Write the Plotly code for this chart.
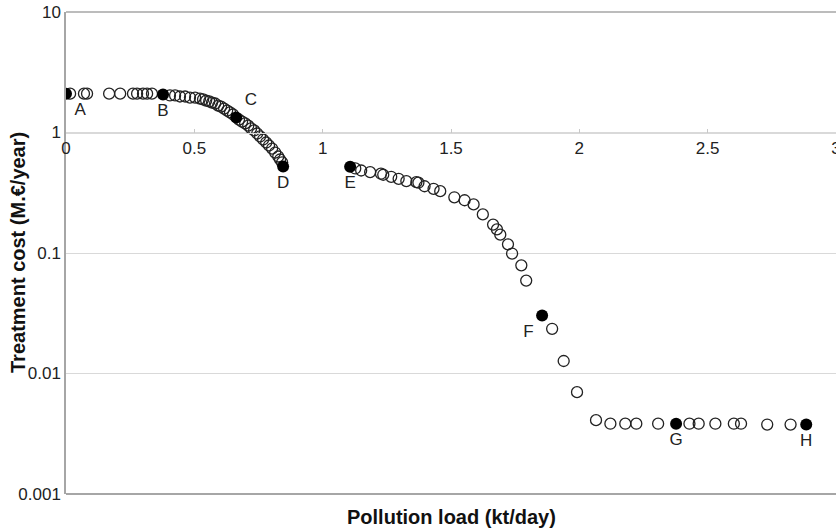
import plotly.graph_objects as go

# Open-circle points (pollution load kt/day, treatment cost M€/year)
open_x = [0.016, 0.070, 0.082, 0.168, 0.211, 0.261, 0.277, 0.300, 0.316, 0.335,
          0.405, 0.425, 0.444, 0.464, 0.483, 0.503, 0.522, 0.534, 0.546, 0.558,
          0.569, 0.581, 0.593, 0.604, 0.616, 0.628, 0.639, 0.651, 0.674, 0.686,
          0.698, 0.710, 0.721, 0.733, 0.745, 0.756, 0.768, 0.780, 0.791, 0.803,
          0.815, 0.827, 0.834, 0.842,
          1.127, 1.150, 1.185, 1.227, 1.236, 1.267, 1.296, 1.326, 1.365, 1.373,
          1.397, 1.432, 1.458, 1.513, 1.553, 1.588, 1.624, 1.664, 1.679, 1.692,
          1.722, 1.738, 1.774, 1.793,
          1.894, 1.939, 1.991, 2.065, 2.121, 2.179, 2.222, 2.307, 2.429, 2.465,
          2.530, 2.602, 2.630, 2.732, 2.823]
open_y = [2.10, 2.10, 2.10, 2.10, 2.10, 2.10, 2.10, 2.10, 2.10, 2.10,
          2.03, 2.03, 1.99, 1.99, 1.95, 1.95, 1.91, 1.88, 1.84, 1.81,
          1.77, 1.74, 1.67, 1.64, 1.58, 1.52, 1.47, 1.41, 1.28, 1.23,
          1.19, 1.14, 1.08, 1.04, 0.981, 0.927, 0.875, 0.826, 0.780, 0.736,
          0.682, 0.632, 0.597, 0.564,
          0.503, 0.484, 0.469, 0.455, 0.446, 0.429, 0.413, 0.395, 0.387, 0.383,
          0.358, 0.341, 0.326, 0.290, 0.274, 0.253, 0.209, 0.172, 0.157, 0.142,
          0.118, 0.099, 0.079, 0.059,
          0.0235, 0.0127, 0.0070, 0.0041, 0.00383, 0.00383, 0.00383, 0.00383, 0.00383, 0.00383,
          0.00383, 0.00383, 0.00383, 0.00377, 0.00377]

# Highlighted (filled) points
key_labels = ["A", "B", "C", "D", "E", "F", "G", "H"]
key_x = [0.0, 0.378, 0.663, 0.846, 1.107, 1.855, 2.377, 2.884]
key_y = [2.10, 2.07, 1.33, 0.522, 0.519, 0.0303, 0.00383, 0.00377]
key_textpos = ["bottom right", "bottom center", "top right", "bottom center",
               "bottom center", "bottom left", "bottom center", "bottom center"]

x_ticks = [0, 0.5, 1, 1.5, 2, 2.5, 3]
x_ticktext = ["0", "0.5", "1", "1.5", "2", "2.5", "3"]
y_ticks = [0.001, 0.01, 0.1, 1, 10]
y_ticktext = ["0.001", "0.01", "0.1", "1", "10"]

FONT = "Liberation Sans, Arial, sans-serif"

fig = go.Figure()
fig.add_trace(go.Scatter(
    x=open_x, y=open_y, mode="markers",
    marker=dict(symbol="circle-open", size=11, color="#222222", line=dict(width=1.3)),
    showlegend=False, hoverinfo="x+y"))
fig.add_trace(go.Scatter(
    x=key_x, y=key_y, mode="markers+text",
    text=key_labels, textposition=key_textpos,
    textfont=dict(family=FONT, size=17, color="#222222"),
    marker=dict(symbol="circle", size=12, color="#000000"),
    showlegend=False, hoverinfo="x+y+text"))

fig.update_layout(
    width=836, height=531,
    margin=dict(l=66, r=0, t=12, b=37, autoexpand=False),
    plot_bgcolor="white", paper_bgcolor="white",
    font=dict(family=FONT, size=17, color="#222222"),
    xaxis=dict(
        range=[0, 3], tickvals=x_ticks, ticktext=x_ticktext,
        anchor="free", position=0.75, showgrid=False, zeroline=False,
        showline=True, linecolor="#d9d9d9", linewidth=1,
        ticks="inside", ticklen=4, tickcolor="#c8c8c8",
        tickfont=dict(family=FONT, size=17, color="#222222"),
        ticklabeloverflow="allow", automargin=False,
    ),
    yaxis=dict(
        type="log", range=[-3, 1], domain=[0, 1],
        tickvals=y_ticks, ticktext=y_ticktext,
        showgrid=True, gridcolor="#d9d9d9", gridwidth=1, zeroline=False,
        showline=True, linecolor="#a6a6a6", linewidth=1.5, ticks="",
        tickfont=dict(family=FONT, size=17, color="#222222"),
        automargin=False,
    ),
    shapes=[
        dict(type="line", xref="paper", yref="paper", x0=0, x1=1, y0=1, y1=1,
             line=dict(color="#a6a6a6", width=1.5)),
        dict(type="line", xref="paper", yref="paper", x0=0, x1=1, y0=0, y1=0,
             line=dict(color="#a6a6a6", width=2)),
    ],
    annotations=[
        dict(text="<b>Pollution load (kt/day)</b>", xref="paper", yref="paper",
             x=0.5, y=0, yshift=-23, xanchor="center", yanchor="middle",
             showarrow=False, font=dict(family=FONT, size=20, color="#111111")),
        dict(text="<b>Treatment cost (M.€/year)</b>", xref="paper", yref="paper",
             x=0, y=0.5, xshift=-48, xanchor="center", yanchor="middle", textangle=-90,
             showarrow=False, font=dict(family=FONT, size=20, color="#111111")),
    ],
)

fig.write_html("out.html", config={"displayModeBar": False},
               post_script="document.body.style.margin='0';document.body.style.overflow='hidden';")
